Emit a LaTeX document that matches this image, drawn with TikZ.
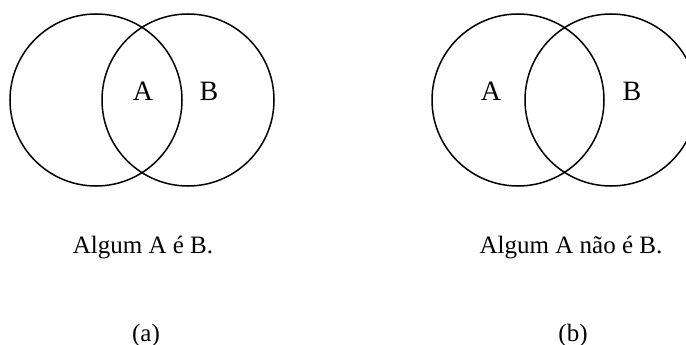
\documentclass[tikz,border=0pt]{standalone}
\usepackage{fontspec}
\setmainfont{Liberation Serif}
\usetikzlibrary{positioning}
\tikzset{
  venn/.style={circle, draw=black, line width=1.5pt, minimum size=172pt,
               inner sep=0pt, outer sep=0pt},
  setlbl/.style={font=\fontsize{28}{30}\selectfont, inner sep=0pt},
  caplbl/.style={font=\fontsize{25}{27}\selectfont, inner sep=0pt, anchor=base},
}
\begin{document}
\begin{tikzpicture}[x=1pt, y=-1pt]
  \useasboundingbox (0,0) rectangle (686,345);
  \clip (0,0) rectangle (686,345);

  % (a) Algum A e B
  \node[venn] (la) at (96,100) {};
  \node[venn] (lb) at (188,100) {};
  \node[setlbl] (lA) at (143,91) {A};
  \node[setlbl] (lB) at (209,91) {B};
  \node[caplbl] (capa) at (143,253) {Algum A é B.};
  \node[caplbl] (taga) at (146,341) {(a)};

  % (b) Algum A nao e B
  \node[venn] (ra) at (518,100) {};
  \node[venn] (rb) at (611,100) {};
  \node[setlbl] (rA) at (491,91) {A};
  \node[setlbl] (rB) at (632,91) {B};
  \node[caplbl] (capb) at (571,253) {Algum A não é B.};
  \node[caplbl] (tagb) at (573,341) {(b)};
\end{tikzpicture}
\end{document}
